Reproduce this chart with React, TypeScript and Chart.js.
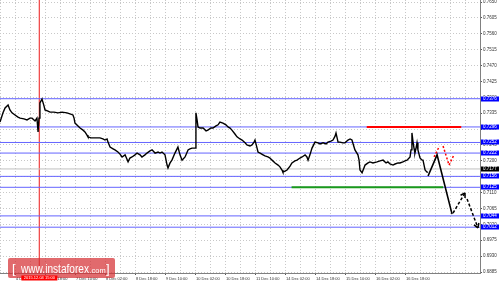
import { useEffect, useRef } from "react";
import { Chart, registerables } from "chart.js";
Chart.register(...registerables);

// ---- data (x = hourly bar index from 3 Dec 18:00, y = AUD/USD price) ----
const priceBars = [
  0, 1.6, 2.7, 4.3, 5.3, 6.4, 8, 9.6, 10.7, 12.8, 14.4, 16, 17.1, 18.7, 19.7, 20.3, 20.8, 21.3, 22.4, 23.5,
  24, 25.6, 26.7, 28.8, 30.9, 33.1, 35.7, 37.3, 38.9, 39.5, 40, 41.6, 42.7, 44.3, 45.3, 46.4, 46.9, 48.5, 49.6, 51.2,
  53.3, 54.9, 56, 57.1, 57.6, 58.7, 60.3, 61.3, 62.9, 64, 65.1, 66.7, 68.3, 69.3, 70.4, 72, 73.1, 74.7, 75.7, 77.3,
  78.4, 80, 81.1, 82.7, 84.3, 85.3,
  86.4, 88, 89.1, 89.6, 90.7, 91.7, 93.3, 94.9, 96, 97.1, 98.7, 100.3, 101.3, 102.4, 104, 104.5, 105.1, 105.6, 106.7, 108.3,
  109.9, 110.9, 112.5, 113.6, 115.2, 116.3, 117.3, 118.9, 120.5, 121.6, 122.7, 123.7, 125.3, 126.4, 128, 129.1, 130.7, 131.7, 133.3, 134.4,
  135.5, 136, 137.1, 137.6, 138.7, 140.3, 141.3, 142.9, 144, 145.1, 146.7, 148.3, 149.3, 150.4, 150.9, 152, 153.1, 154.7, 155.7, 157.3,
  158.4, 160, 161.1, 162.7, 163.7, 164.3,
  165.3, 166.4, 168, 169.6, 170.7, 172.3, 173.9, 174.9, 176.5, 177.6, 178.7, 179.2, 180.3, 181.3, 182.9, 184, 185.6, 186.7, 187.7, 189.3,
  190.9, 191.5, 192, 193.1, 194.1, 194.7, 196.3, 197.3, 198.9, 201.1, 202.7, 204.3, 205.9, 206.9, 208, 209.6, 210.7, 212.3, 213.3, 214.9,
  216, 217.1, 218.7, 219.2, 219.7, 220.3, 220.8, 221.3, 221.9, 222.4, 222.9, 224, 225.1, 225.6, 226.7, 227.7, 228.3,
];
const priceValues = [
  0.7310, 0.7336, 0.7350, 0.7358, 0.7344, 0.7336, 0.7330, 0.7324, 0.7321, 0.7319, 0.7316, 0.7321, 0.7321, 0.7313, 0.7321, 0.7282, 0.7321, 0.7364, 0.7375, 0.7355,
  0.7344, 0.7341, 0.7338, 0.7338, 0.7336, 0.7338, 0.7336, 0.7333, 0.7330, 0.7321, 0.7307, 0.7299, 0.7293, 0.7287, 0.7282, 0.7273, 0.7268, 0.7265, 0.7265, 0.7265,
  0.7265, 0.7262, 0.7259, 0.7262, 0.7253, 0.7239, 0.7234, 0.7231, 0.7225, 0.7219, 0.7211, 0.7217, 0.7197, 0.7208, 0.7211, 0.7217, 0.7222, 0.7217, 0.7211, 0.7217,
  0.7222, 0.7228, 0.7231, 0.7222, 0.7225, 0.7222,
  0.7225, 0.7217, 0.7188, 0.7180, 0.7194, 0.7202, 0.7222, 0.7239, 0.7217, 0.7202, 0.7211, 0.7231, 0.7234, 0.7236, 0.7236, 0.7336, 0.7316, 0.7296, 0.7293, 0.7293,
  0.7285, 0.7287, 0.7293, 0.7293, 0.7299, 0.7302, 0.7310, 0.7307, 0.7302, 0.7296, 0.7293, 0.7287, 0.7276, 0.7268, 0.7262, 0.7259, 0.7251, 0.7245, 0.7242, 0.7245,
  0.7253, 0.7259, 0.7236, 0.7225, 0.7222, 0.7217, 0.7214, 0.7211, 0.7208, 0.7202, 0.7194, 0.7188, 0.7183, 0.7174, 0.7168, 0.7171, 0.7174, 0.7185, 0.7194, 0.7200,
  0.7202, 0.7208, 0.7211, 0.7217, 0.7211, 0.7202,
  0.7217, 0.7236, 0.7253, 0.7251, 0.7248, 0.7251, 0.7248, 0.7253, 0.7256, 0.7259, 0.7270, 0.7279, 0.7253, 0.7253, 0.7251, 0.7251, 0.7259, 0.7262, 0.7259, 0.7231,
  0.7217, 0.7202, 0.7174, 0.7166, 0.7180, 0.7188, 0.7194, 0.7197, 0.7194, 0.7197, 0.7200, 0.7202, 0.7194, 0.7197, 0.7191, 0.7188, 0.7191, 0.7194, 0.7194, 0.7197,
  0.7200, 0.7202, 0.7211, 0.7231, 0.7279, 0.7253, 0.7236, 0.7222, 0.7236, 0.7251, 0.7231, 0.7208, 0.7202, 0.7202, 0.7174, 0.7168, 0.7168,
];

const priceTicks = [
  0.7650, 0.7605, 0.7560, 0.7515, 0.7470, 0.7425, 0.7380, 0.7335, 0.7290,
  0.7245, 0.7200, 0.7155, 0.7110, 0.7065, 0.7020, 0.6975, 0.6930, 0.6885,
];
const timeTickBars = [8, 24, 40, 56, 72, 88, 104, 120, 136, 152, 168, 184, 200, 216];
const timeTickLabels = [
  "4 Dec 02:00", "4 Dec 18:00", "7 Dec 10:00", "8 Dec 02:00", "8 Dec 18:00", "9 Dec 10:00",
  "10 Dec 02:00", "10 Dec 18:00", "11 Dec 10:00", "14 Dec 02:00", "14 Dec 18:00",
  "15 Dec 10:00", "16 Dec 02:00", "16 Dec 18:00",
];
const gridStepBars = 8;

const levelValues = [0.7376, 0.7296, 0.7252, 0.7222, 0.7156, 0.7125, 0.7044, 0.7012];
const currentPrice = 0.7177;

const redLineBars = [195.6, 246];
const redLineValue = 0.7296;
const greenLineBars = [155.5, 236.4];
const greenLineValue = 0.7125;

const forecastBars = [228.3, 233.1, 241.1];
const forecastValues = [0.7157, 0.7217, 0.7049];
const forecastUpBars = [241.6, 248.0];
const forecastUpValues = [0.7052, 0.7109];
const forecastDownBars = [249.1, 254.9];
const forecastDownValues = [0.7092, 0.7010];

const altUpBars = [231.5, 234.4];
const altUpValues = [0.7211, 0.7242];
const altDownBars = [236.3, 239.5, 242.1];
const altDownValues = [0.7242, 0.7188, 0.7217];

const markerBar = 21;
const markerLabel = "2015.12.04 15:00";

const xMin = 0;
const xMax = 256;
const yMin = 0.68822;
const yMax = 0.76557;

const FONT = '"Liberation Sans", Arial, sans-serif';

function pts(xs: number[], ys: number[]) {
  return xs.map((x, i) => ({ x, y: ys[i] }));
}

const overlayPlugin = {
  id: "mtOverlay",
  afterDatasetsDraw(chart: any) {
    const ctx = chart.ctx;
    chart.data.datasets.forEach((ds: any, i: number) => {
      if (!ds.arrowHead) return;
      const p = chart.getDatasetMeta(i).data;
      const a = p[p.length - 2];
      const b = p[p.length - 1];
      const ang = Math.atan2(b.y - a.y, b.x - a.x);
      const len = 5;
      ctx.save();
      ctx.strokeStyle = ds.borderColor;
      ctx.lineWidth = 1.5;
      ctx.setLineDash([]);
      ctx.beginPath();
      for (const d of [-0.55, 0.55]) {
        ctx.moveTo(b.x, b.y);
        ctx.lineTo(b.x - len * Math.cos(ang + d), b.y - len * Math.sin(ang + d));
      }
      ctx.stroke();
      ctx.restore();
    });
  },
  afterDraw(chart: any) {
    const { ctx, chartArea } = chart;
    const x = chart.scales.x;
    const y = chart.scales.y;
    ctx.save();
    // right-axis level labels
    ctx.font = `4.5px ${FONT}`;
    ctx.textBaseline = "middle";
    ctx.textAlign = "left";
    const drawBox = (v: number, fill: string) => {
      const py = y.getPixelForValue(v);
      ctx.fillStyle = fill;
      ctx.fillRect(chartArea.right + 1, Math.round(py) - 2.5, 18, 5);
      ctx.fillStyle = "#ffffff";
      ctx.fillText(v.toFixed(4), chartArea.right + 3, Math.round(py));
    };
    levelValues.forEach((v) => drawBox(v, "#0000ff"));
    drawBox(currentPrice, "#000000");

    // watermark
    ctx.fillStyle = "rgba(214, 48, 52, 0.72)";
    ctx.beginPath();
    if (ctx.roundRect) ctx.roundRect(8, 258, 107, 20, 2);
    else ctx.rect(8, 258, 107, 20);
    ctx.fill();
    ctx.fillStyle = "#ffffff";
    ctx.textBaseline = "alphabetic";
    ctx.font = `300 13px ${FONT}`;
    ctx.fillText("[", 12, 273);
    ctx.fillText("]", 106, 273);
    ctx.font = `12px ${FONT}`;
    const main = "www.instaforex";
    const w = ctx.measureText(main).width;
    ctx.save();
    ctx.translate(21, 272.5);
    ctx.scale(68 / w, 1);
    ctx.fillText(main, 0, 0);
    ctx.restore();
    ctx.font = `7.5px ${FONT}`;
    ctx.fillText(".com", 89.5, 272.5);

    // vertical marker date label
    const mx = x.getPixelForValue(markerBar);
    ctx.fillStyle = "#ff0000";
    ctx.fillRect(mx - 18, 275.5, 36, 5);
    ctx.fillStyle = "#ffffff";
    ctx.font = `4px ${FONT}`;
    ctx.textAlign = "center";
    ctx.textBaseline = "middle";
    ctx.fillText(markerLabel, mx, 278.2);
    ctx.restore();
  },
};

export default function App() {
  const ref = useRef<HTMLCanvasElement>(null);
  useEffect(() => {
    document.body.style.margin = "0";
    const line = (data: any[], color: string, width: number, order: number, extra: any = {}) => ({
      data,
      borderColor: color,
      backgroundColor: color,
      borderWidth: width,
      pointRadius: 0,
      tension: 0,
      fill: false,
      order,
      ...extra,
    });
    const datasets: any[] = [
      line(pts(forecastBars, forecastValues), "#000000", 1.6, 0),
      line(pts(forecastUpBars, forecastUpValues), "#000000", 1.5, 0, { borderDash: [3, 2], arrowHead: true }),
      line(pts(forecastDownBars, forecastDownValues), "#000000", 1.5, 0, { borderDash: [3, 2], arrowHead: true }),
      line(pts(altUpBars, altUpValues), "#ff0000", 1.5, 0, { borderDash: [2, 2] }),
      line(pts(altDownBars, altDownValues), "#ff0000", 1.5, 0, { borderDash: [2, 2] }),
      line(pts(priceBars, priceValues), "#000000", 1.4, 1),
      line(pts(redLineBars, [redLineValue, redLineValue]), "#ff0000", 2, 2),
      line(pts(greenLineBars, [greenLineValue, greenLineValue]), "#1a9a1a", 2, 2),
      ...levelValues.map((v) => line(pts([xMin, xMax], [v, v]), "#6464ff", 1, 3)),
      line(pts([xMin, xMax], [currentPrice, currentPrice]), "#c0c0c0", 1, 4),
      line(pts([markerBar, markerBar], [yMax, yMin]), "#f05050", 1, 4),
    ];
    const chart = new Chart(ref.current!, {
      type: "line",
      data: { datasets },
      options: {
        animation: false,
        responsive: false,
        devicePixelRatio: 1,
        events: [],
        layout: { padding: 0 },
        plugins: { legend: { display: false }, tooltip: { enabled: false } },
        scales: {
          x: {
            type: "linear",
            min: xMin,
            max: xMax,
            afterBuildTicks: (s: any) => {
              const t = [];
              for (let b = xMin; b <= xMax; b += gridStepBars) t.push({ value: b });
              s.ticks = t;
            },
            afterFit: (s: any) => {
              s.height = 11;
              s.paddingLeft = 0;
              s.paddingRight = 0;
            },
            grid: {
              color: "#c8c8c8",
              lineWidth: 1,
              tickLength: 2,
              tickColor: (c: any) => (c.tick && c.tick.label ? "#555" : "rgba(0,0,0,0)"),
            },
            border: { color: "#808080", width: 1, dash: [1, 2] },
            ticks: {
              autoSkip: false,
              maxRotation: 0,
              minRotation: 0,
              align: "start",
              labelOffset: 1,
              padding: 1,
              color: "#333",
              font: { family: FONT, size: 4 },
              callback: (v: any) => {
                const i = timeTickBars.indexOf(Number(v));
                return i >= 0 ? timeTickLabels[i] : "";
              },
            },
          },
          y: {
            type: "linear",
            position: "right",
            min: yMin,
            max: yMax,
            afterBuildTicks: (s: any) => {
              s.ticks = priceTicks.map((v) => ({ value: v }));
            },
            afterFit: (s: any) => {
              s.width = 20;
              s.paddingTop = 0;
              s.paddingBottom = 0;
            },
            grid: { color: "#c8c8c8", lineWidth: 1, tickLength: 2, tickColor: "#555" },
            border: { color: "#808080", width: 1, dash: [1, 2] },
            ticks: {
              padding: 1,
              color: "#333",
              font: { family: FONT, size: 4.5 },
              callback: (v: any) => Number(v).toFixed(4),
            },
          },
        },
      } as any,
      plugins: [overlayPlugin],
    });
    return () => chart.destroy();
  }, []);
  return <canvas ref={ref} width={500} height={284} style={{ display: "block" }} />;
}
